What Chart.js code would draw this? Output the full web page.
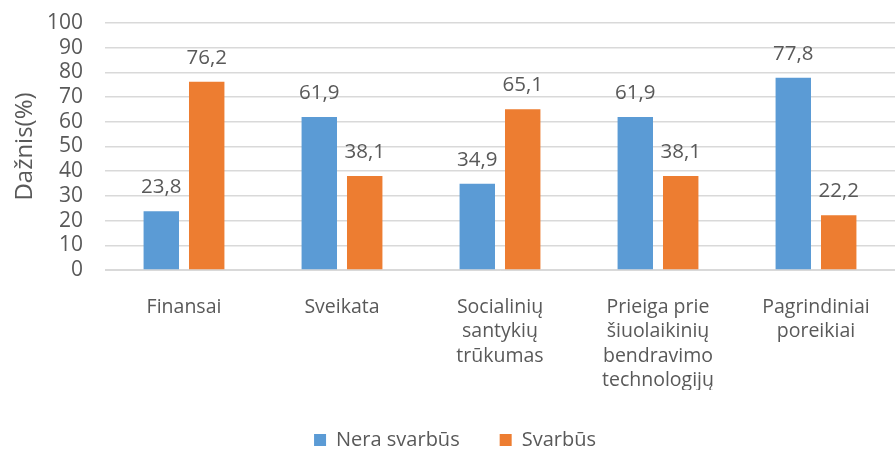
<!DOCTYPE html>
<html><head><meta charset="utf-8">
<script src="https://cdn.jsdelivr.net/npm/chart.js@4"></script>
<style>html,body{margin:0;padding:0;background:#fff;overflow:hidden}#wrap{width:895px;height:450px}</style>
</head><body><div id="wrap"><canvas id="c" width="895" height="450"></canvas></div>
<script>
const categories = [["Finansai"],["Sveikata"],["Socialinių","santykių","trūkumas"],["Prieiga prie","šiuolaikinių","bendravimo","technologijų"],["Pagrindiniai","poreikiai"]];
const seriesNames = ["Nera svarbūs","Svarbūs"];
const neraSvarbus = [23.8,61.9,34.9,61.9,77.8];
const svarbus = [76.2,38.1,65.1,38.1,22.2];
const FONT = "'Open Sans', sans-serif";
const TXT = "#595959";

const labelPlugin = {
  id:'vals',
  afterDatasetsDraw(chart){
    const ctx = chart.ctx;
    ctx.save();
    ctx.font = "20.5px " + FONT;
    ctx.fillStyle = TXT;
    ctx.textAlign = "center";
    ctx.textBaseline = "alphabetic";
    chart.data.datasets.forEach((ds,i)=>{
      chart.getDatasetMeta(i).data.forEach((bar,j)=>{
        ctx.fillText(String(ds.data[j]).replace('.',','), bar.x, bar.y - 18);
      });
    });
    ctx.restore();
  }
};

new Chart(document.getElementById('c'),{
  type:'bar',
  data:{labels:categories,datasets:[
    {label:seriesNames[0],data:neraSvarbus,backgroundColor:'#5B9BD5'},
    {label:seriesNames[1],data:svarbus,backgroundColor:'#ED7D31'}
  ]},
  options:{
    responsive:false,animation:false,
    layout:{padding:{left:7,right:-8,top:23,bottom:-10}},
    categoryPercentage:0.575,barPercentage:0.78,
    plugins:{
      legend:{position:'bottom',labels:{font:{size:20,family:FONT},color:TXT,boxWidth:12,boxHeight:12,padding:40}},
      tooltip:{enabled:false}
    },
    scales:{
      x:{grid:{display:false},border:{color:'#D9D9D9'},
        ticks:{font:{size:19.5,family:FONT,lineHeight:1.25},color:TXT,maxRotation:0,autoSkip:false,padding:17},
        afterFit(s){s.height=120;s.paddingLeft=0;s.paddingRight=0;}},
      y:{min:0,max:100,
        grid:{color:'#D9D9D9',lineWidth:1.5,drawTicks:false},border:{display:false},
        ticks:{stepSize:10,autoSkip:false,font:{size:21,family:FONT},color:TXT,padding:22},
        title:{display:true,text:'Dažnis(%)',font:{size:24,family:FONT},color:TXT,padding:{bottom:4}},
        afterFit(s){s.width=98;s.paddingTop=0;s.paddingBottom=0;}}
    }
  },
  plugins:[labelPlugin]
});
</script></body></html>
